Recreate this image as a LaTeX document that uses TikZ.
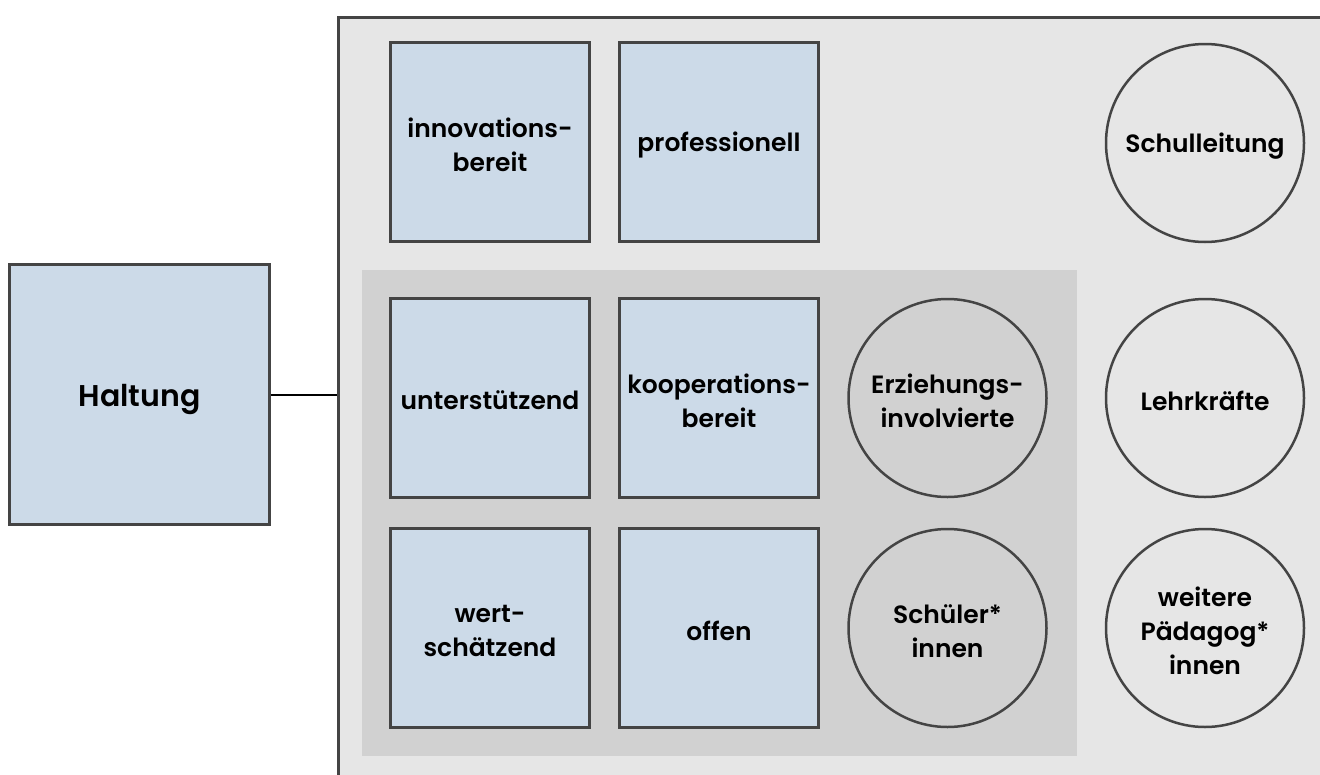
\documentclass[tikz,border=0pt]{standalone}
\usepackage{fontspec}
\setmainfont{Poppins}[BoldFont={Poppins SemiBold}]
\definecolor{boxblue}{HTML}{CCDAE8}
\definecolor{edge}{HTML}{444444}
\definecolor{panelgray}{HTML}{E6E6E6}
\definecolor{innergray}{HTML}{D1D1D1}
\begin{document}
\begin{tikzpicture}[x=1pt,y=-1pt,
  txt/.style={inner sep=0pt,align=center,yshift=-3pt,font=\fontsize{25}{34}\selectfont\bfseries},
  sq/.style={draw=edge,line width=3pt,fill=boxblue,minimum width=199pt,minimum height=199pt,inner sep=0pt,label={[txt]center:#1}},
  circ/.style={circle,draw=edge,line width=2.5pt,minimum size=198pt,inner sep=0pt,label={[txt]center:#1}}]
\useasboundingbox (0,0) rectangle (1320,774);
\node[draw=edge,line width=3pt,fill=panelgray,anchor=north west,minimum width=1020pt,minimum height=790pt,inner sep=0pt] (panel) at (336.5,15.5) {};
\node[fill=innergray,anchor=north west,minimum width=715pt,minimum height=486pt,inner sep=0pt] (inner) at (362,270) {};
\node[sq={innovations-\\bereit}] (innov) at (490,142) {};
\node[sq={professionell}] (prof) at (719,142) {};
\node[sq={unterstützend}] (unter) at (490,397.5) {};
\node[sq={kooperations-\\bereit}] (koop) at (719,397.5) {};
\node[sq={wert-\\schätzend}] (wert) at (490,627.5) {};
\node[sq={offen}] (offen) at (719,627.5) {};
\node[circ={Erziehungs-\\involvierte}] (erz) at (947.5,398) {};
\node[circ={Schüler*\\innen}] (schue) at (947.5,628) {};
\node[circ={Schulleitung}] (schul) at (1205,143) {};
\node[circ={Lehrkräfte}] (lehr) at (1205,398) {};
\node[circ={weitere\\Pädagog*\\innen}] (weit) at (1205,628) {};
\node[draw=edge,line width=3pt,fill=boxblue,minimum width=260pt,minimum height=260pt,inner sep=0pt,
  label={[txt,yshift=-2pt,font=\fontsize{30}{34}\selectfont\bfseries]center:Haltung}] (halt) at (139.5,394.5) {};
\draw[line width=2pt,black] (halt.east) -- (halt.east -| panel.west);
\end{tikzpicture}
\end{document}
